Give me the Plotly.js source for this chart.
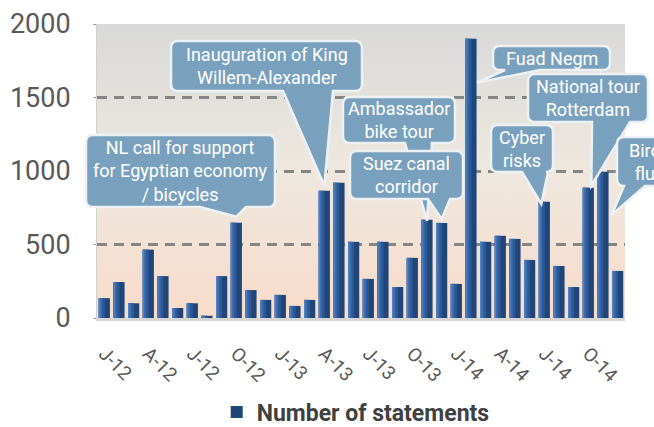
<!DOCTYPE html>
<html>
<head>
<meta charset="utf-8">
<script src="https://cdn.plot.ly/plotly-3.0.1.min.js"></script>
<style>
html,body{margin:0;padding:0;background:#fff;}
#chart{width:654px;height:427px;}
</style>
</head>
<body>
<div id="chart"></div>
<script>
// ---- data ----
var months = ['2012-01','2012-02','2012-03','2012-04','2012-05','2012-06','2012-07','2012-08','2012-09','2012-10','2012-11','2012-12',
              '2013-01','2013-02','2013-03','2013-04','2013-05','2013-06','2013-07','2013-08','2013-09','2013-10','2013-11','2013-12',
              '2014-01','2014-02','2014-03','2014-04','2014-05','2014-06','2014-07','2014-08','2014-09','2014-10','2014-11','2014-12'];
var statements = [135,245,100,465,285,68,100,15,285,648,190,123,
                  157,82,123,865,920,518,266,518,211,409,668,647,
                  232,1900,518,559,538,395,790,354,211,886,995,320];
var tickMonths = ['2012-01','2012-04','2012-07','2012-10','2013-01','2013-04','2013-07','2013-10','2014-01','2014-04','2014-07','2014-10'];
var tickLabels = ['J-12','A-12','J-12','O-12','J-13','A-13','J-13','O-13','J-14','A-14','J-14','O-14'];
var seriesName = 'Number of statements';
var yTicks = [0,500,1000,1500,2000];

// callout texts and the bar (index into months) they point at
var calloutTexts = ['NL call for support<br>for Egyptian economy<br>/ bicycles',
                    'Inauguration of King<br>Willem-Alexander',
                    'Ambassador<br>bike tour',
                    'Suez canal<br>corridor',
                    'Fuad Negm',
                    'National tour<br>Rotterdam',
                    'Cyber<br>risks',
                    'Bird<br>flu'];
var calloutBars = [9,15,22,23,25,33,30,35];

// ---- styling / geometry (pixels) ----
var W = 654, H = 427;
var M = {l:97, r:29, t:24, b:109, autoexpand:false};
var PW = W - M.l - M.r, PH = H - M.t - M.b;
var YMAX = 2000;
var geo = [
  {box:[86,275,135,207], tail:[200,246], dx:0,  dy:-6},
  {box:[171,362,41,91],  tail:[283,333], dx:0,  dy:-5},
  {box:[343,455,97,143], tail:[405,432], dx:0,  dy:1},
  {box:[350,463,151,199],tail:[428,450], dx:0,  dy:-4},
  {box:[493,610,46,70],  tail:[505,540], dx:6,  dy:44},
  {box:[528,648,74,122], tail:[592,630], dx:3,  dy:-2},
  {box:[491,553,125,172],tail:[522,548], dx:-3, dy:2},
  {box:[617,672,137,186],tail:[624,645], dx:-6, dy:-56}
];
function PX(px){ return (px - M.l) / PW; }
function PY(py){ return (M.t + PH - py) / PH; }
function pt(x,y){ return PX(x).toFixed(5)+','+PY(y).toFixed(5); }

var shapes = [], annotations = [];
for (var k = 0; k < calloutTexts.length; k++) {
  var g = geo[k], i = calloutBars[k];
  var tx = M.l + (i + 0.5) * PW / months.length + g.dx;
  var ty = M.t + PH - statements[i] / YMAX * PH + g.dy;
  var x0=g.box[0], x1=g.box[1], y0=g.box[2], y1=g.box[3], r=7;
  var p = 'M'+pt(x0+r,y0)+' L'+pt(x1-r,y0)+' Q'+pt(x1,y0)+' '+pt(x1,y0+r)+
          ' L'+pt(x1,y1-r)+' Q'+pt(x1,y1)+' '+pt(x1-r,y1)+
          ' L'+pt(g.tail[1],y1)+' L'+pt(tx,ty)+' L'+pt(g.tail[0],y1)+
          ' L'+pt(x0+r,y1)+' Q'+pt(x0,y1)+' '+pt(x0,y1-r)+
          ' L'+pt(x0,y0+r)+' Q'+pt(x0,y0)+' '+pt(x0+r,y0)+' Z';
  shapes.push({type:'path', xref:'paper', yref:'paper', path:p,
               fillcolor:'#79a1bd', line:{color:'#eef1f4', width:2.5}, layer:'above'});
  annotations.push({xref:'paper', yref:'paper', x:PX((x0+x1)/2), y:PY((y0+y1)/2),
                    xanchor:'center', yanchor:'middle', showarrow:false, align:'center',
                    text:calloutTexts[k], font:{family:'Roboto', size:18, color:'#ffffff'}});
}

var bgSvg = '<svg xmlns="http://www.w3.org/2000/svg" width="10" height="100" preserveAspectRatio="none">'+
  '<defs><linearGradient id="g" x1="0" y1="0" x2="0" y2="1">'+
  '<stop offset="0" stop-color="#d9d9d9"/><stop offset="0.5" stop-color="#eee8df"/><stop offset="1" stop-color="#f9dbca"/>'+
  '</linearGradient></defs><rect width="10" height="100" fill="url(#g)"/></svg>';

// bars drawn as a dark base bar with lighter stripes on the left (shading)
var BW = 0.76;
var shades = [
  {c:'#1f4677', w:BW,      o:-BW/2, legend:true},
  {c:'#2b5896', w:BW*0.55, o:-BW/2, legend:false},
  {c:'#3d6dae', w:BW*0.30, o:-BW/2, legend:false},
  {c:'#4f83c4', w:BW*0.12, o:-BW/2, legend:false}
];
var traces = shades.map(function(s){
  return {type:'bar', x:months, y:statements, name:seriesName,
          width:s.w, offset:s.o, marker:{color:s.c, line:{width:0}},
          showlegend:s.legend};
});

var layout = {
  width:W, height:H,
  margin:M,
  barmode:'overlay',
  paper_bgcolor:'#ffffff', plot_bgcolor:'rgba(0,0,0,0)',
  font:{family:'Roboto', color:'#595959'},
  images:[{source:'data:image/svg+xml;charset=utf-8,'+encodeURIComponent(bgSvg),
           xref:'paper', yref:'paper', x:0, y:1, sizex:1, sizey:1,
           xanchor:'left', yanchor:'top', sizing:'stretch', layer:'below'}],
  xaxis:{type:'category', tickvals:tickMonths, ticktext:tickLabels, tickangle:45,
         tickfont:{size:19, color:'#595959'}, showgrid:false, showline:true,
         linecolor:'#d4d4d4', linewidth:3, ticks:'', zeroline:false,
         ticklabelstandoff:14, range:[-0.5, 35.5]},
  yaxis:{range:[0,YMAX], tickvals:yTicks, tickfont:{size:27, color:'#595959'},
         showgrid:true, gridcolor:'#858585', gridwidth:3, griddash:'10px,7px',
         zeroline:false, showline:true, linecolor:'#d0d0d0', linewidth:1,
         ticks:'outside', ticklen:3, tickcolor:'#9a9a9a', ticklabelstandoff:17},
  legend:{orientation:'h', x:0.49, xanchor:'center', y:-0.32, yanchor:'middle',
          font:{size:23, color:'#404040', weight:'bold'}},
  shapes:shapes,
  annotations:annotations
};

Plotly.newPlot('chart', traces, layout, {displayModeBar:false, staticPlot:true});
</script>
</body>
</html>
